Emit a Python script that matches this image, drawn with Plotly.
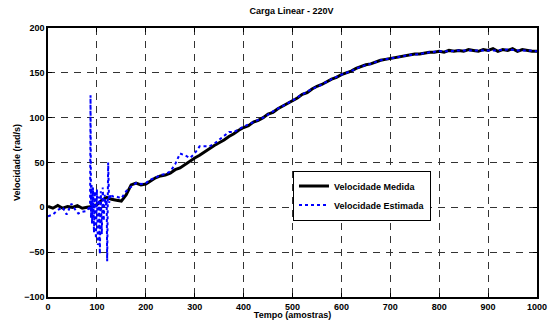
import plotly.graph_objects as go

# Measured speed (every 10 samples)
x_med = list(range(0, 1001, 10))
y_med = [1, -1, 2, -1, 1, 0, 2, -1, 0, 1,
         3, 8, 11, 9, 8, 7, 14, 25, 27, 25,
         26, 30, 33, 35, 36, 38, 42, 44, 48, 52,
         55, 58, 62, 66, 69, 72, 75, 79, 82, 86,
         89, 91, 95, 97, 100, 104, 106, 110, 113, 116,
         119, 122, 126, 128, 132, 135, 137, 140, 143, 145,
         148, 150, 152, 155, 157, 159, 160, 162, 164, 165,
         166, 167, 168, 169, 170, 171, 171, 172, 173, 173,
         174, 173, 175, 174, 175, 174, 176, 175, 174, 176,
         175, 177, 174, 176, 175, 177, 174, 176, 175, 174,
         174]

# Estimated speed
x_est = [0, 10, 20, 30, 38, 48, 55, 62, 70, 80, 84, 86, 87, 88, 89, 90, 92, 94, 96, 98,
         100, 102, 104, 106, 108, 110, 112, 114, 116, 118, 120, 121, 123, 125, 128, 132,
         140, 150, 160, 170, 180, 190, 200, 210, 220, 230, 240, 250, 260, 270, 280, 290,
         300, 310, 320, 330, 340, 350, 360, 370, 380, 390, 400, 420, 440, 460, 480, 500,
         520, 540, 560, 580, 600, 620, 640, 660, 680, 700, 720, 740, 760, 780, 800, 820,
         840, 860, 880, 900, 920, 940, 960, 980, 1000]
y_est = [-10, -8, -3, 0, -8, 4, -2, -7, -5, -4, 0, -3, 125, -12, 25, -18, 22, -28, 18, -35,
         20, -42, 12, -52, 18, -30, 22, -15, 14, 2, 8, -60, 50, 5, 15, 12,
         12, 10, 18, 23, 27, 26, 27, 31, 33, 36, 37, 40, 48, 60, 58, 55,
         60, 68, 68, 68, 71, 75, 80, 84, 84, 87, 90, 95, 100, 107, 113, 119,
         126, 132, 137, 143, 148, 152, 157, 160, 164, 166, 168, 170, 171, 173, 174, 174,
         175, 175, 175, 175, 175, 176, 175, 175, 174]

title_text = "Carga Linear - 220V"
xlabel = "Tempo (amostras)"
ylabel = "Velocidade (rad/s)"
x_ticks = list(range(0, 1001, 100))
y_ticks = list(range(-100, 201, 50))

FONT = "Liberation Sans, Arial, sans-serif"

fig = go.Figure()
fig.add_trace(go.Scatter(x=x_med, y=y_med, mode="lines", name="Velocidade Medida",
                         line=dict(color="black", width=3)))
fig.add_trace(go.Scatter(x=x_est, y=y_est, mode="lines", name="Velocidade Estimada",
                         line=dict(color="blue", width=2, dash="dot")))

axis_common = dict(
    showline=True, linecolor="black", linewidth=1.5, mirror="ticks",
    ticks="inside", ticklen=4, tickcolor="black",
    showgrid=True, gridcolor="#333", griddash="7px,6px", gridwidth=1,
    zeroline=False, automargin=False,
    tickfont=dict(family=FONT, size=9, color="black", weight="bold"),
)

fig.update_layout(
    width=550, height=320,
    margin=dict(l=48, r=13, t=28, b=23),
    paper_bgcolor="white", plot_bgcolor="white",
    title=dict(text=title_text, x=0.53, xanchor="center", y=0.965, yanchor="middle",
               font=dict(family=FONT, size=9, color="black", weight="bold")),
    xaxis=dict(range=[0, 1000], tickvals=x_ticks, **axis_common,
               title=dict(text=xlabel, standoff=1,
                          font=dict(family=FONT, size=9, color="black", weight="bold"))),
    yaxis=dict(range=[-100, 200], tickvals=y_ticks, **axis_common,
               title=dict(text=ylabel, standoff=2,
                          font=dict(family=FONT, size=9, color="black", weight="bold"))),
    legend=dict(x=0.501, y=0.47, xanchor="left", yanchor="top",
                bgcolor="white", bordercolor="black", borderwidth=1,
                font=dict(family=FONT, size=9, color="black", weight="bold"),
                itemwidth=30, tracegroupgap=0),
    showlegend=True,
)

fig.write_html("out.html")
